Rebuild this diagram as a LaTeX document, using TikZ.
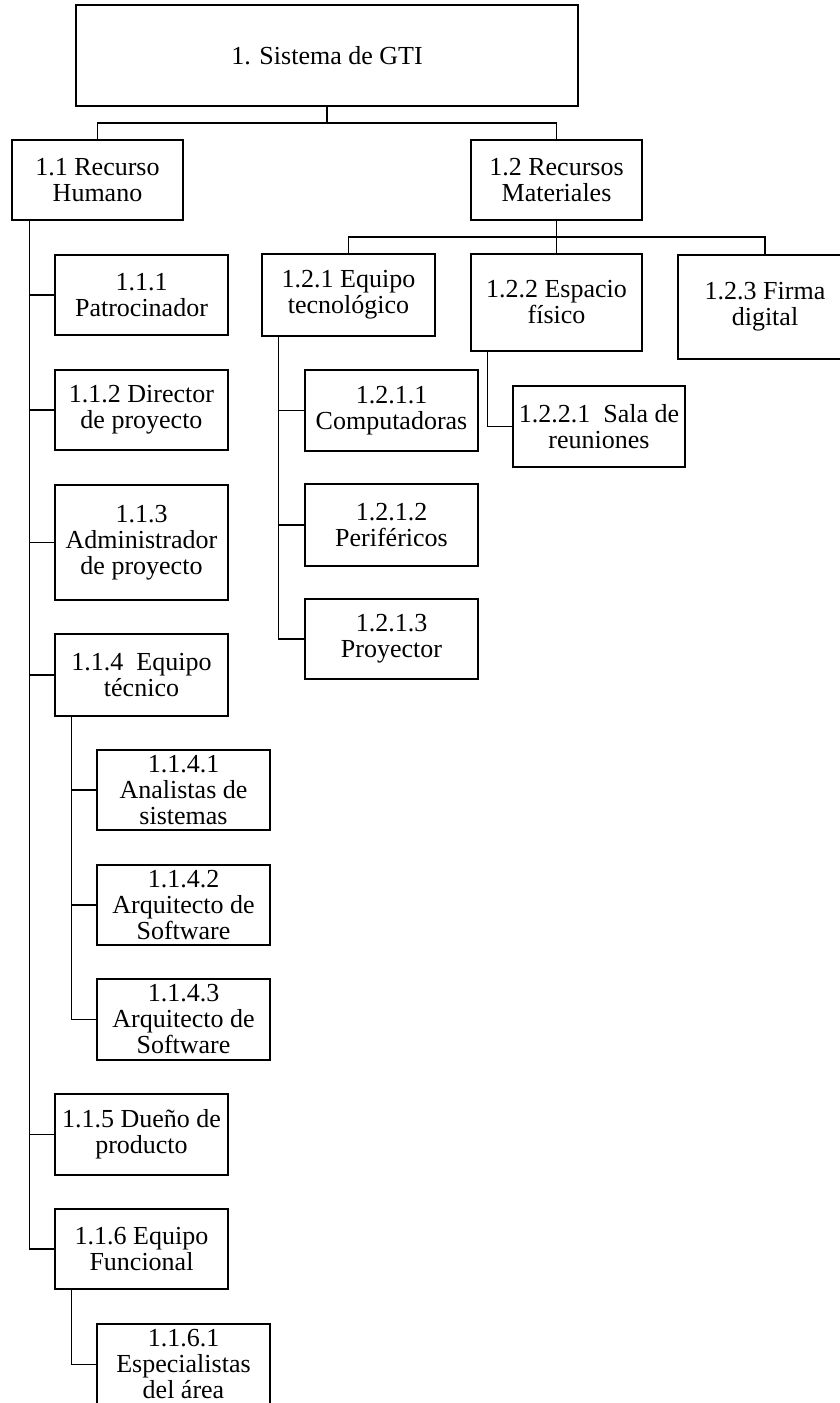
\documentclass[tikz,border=0pt]{standalone}
\usepackage{fontspec}
\setmainfont{Liberation Serif}
\begin{document}
\begin{tikzpicture}[x=1pt,y=-1pt,
  bx/.style={draw=black,line width=1.5pt,rectangle,inner sep=0pt,align=center,
    font=\fontsize{26}{26}\selectfont},
  cn/.style={draw=black,line width=1.5pt}]
\useasboundingbox (0,0) rectangle (839,1403);
% level 0 and 1
\node[bx,minimum width=502pt,minimum height=101pt] (root) at (327,55.5) {1. Sistema de GTI};
\node[bx,minimum width=171pt,minimum height=80pt] (n11) at (97.5,180) {1.1 Recurso\\Humano};
\node[bx,minimum width=171pt,minimum height=80pt] (n12) at (556.5,180) {1.2 Recursos\\Materiales};
% left branch
\node[bx,minimum width=173pt,minimum height=80pt] (n111) at (141.5,295) {1.1.1\\Patrocinador};
\node[bx,minimum width=173pt,minimum height=80pt] (n112) at (141.5,410) {1.1.2 Director\\de proyecto};
\node[bx,minimum width=173pt,minimum height=115pt] (n113) at (141.5,542.5) {1.1.3\\Administrador\\de proyecto};
\node[bx,minimum width=173pt,minimum height=82pt] (n114) at (141.5,675) {1.1.4\ \ Equipo\\técnico};
\node[bx,minimum width=173pt,minimum height=80pt] (n1141) at (183.5,790) {1.1.4.1\\Analistas de\\sistemas};
\node[bx,minimum width=173pt,minimum height=80pt] (n1142) at (183.5,905) {1.1.4.2\\Arquitecto de\\Software};
\node[bx,minimum width=173pt,minimum height=81pt] (n1143) at (183.5,1019.5) {1.1.4.3\\Arquitecto de\\Software};
\node[bx,minimum width=173pt,minimum height=81pt] (n115) at (141.5,1134.5) {1.1.5 Dueño de\\producto};
\node[bx,minimum width=173pt,minimum height=80pt] (n116) at (141.5,1249) {1.1.6 Equipo\\Funcional};
\node[bx,minimum width=173pt,minimum height=81pt] (n1161) at (183.5,1364.5) {1.1.6.1\\Especialistas\\del área};
% right branch
\node[bx,minimum width=173pt,minimum height=82pt] (n121) at (348.5,295) {1.2.1 Equipo\\tecnológico};
\node[bx,minimum width=171pt,minimum height=97pt] (n122) at (556.5,302.5) {1.2.2 Espacio\\físico};
\node[bx,minimum width=174pt,minimum height=104pt] (n123) at (765,307) {1.2.3 Firma\\digital};
\node[bx,minimum width=173pt,minimum height=81pt] (n1211) at (391.5,410.5) {1.2.1.1\\Computadoras};
\node[bx,minimum width=173pt,minimum height=82pt] (n1212) at (391.5,525) {1.2.1.2\\Periféricos};
\node[bx,minimum width=173pt,minimum height=80pt] (n1213) at (391.5,639) {1.2.1.3\\Proyector};
\node[bx,minimum width=172pt,minimum height=81pt] (n1221) at (599,426.5) {1.2.2.1\ \ Sala de\\reuniones};
% connectors level 0 -> 1
\coordinate (b1) at (327,123);
\draw[cn] (root.south) -- (b1);
\draw[cn] (n11.north) |- (b1) -| (n12.north);
% 1.1 spine
\coordinate (s11) at ([xshift=18pt]n11.south west);
\draw[cn] (s11) |- (n116.west);
\foreach \n in {n111,n112,n113,n114,n115} \draw[cn] (\n.west) -- (\n.west -| s11);
% 1.1.4 spine
\coordinate (s114) at ([xshift=17pt]n114.south west);
\draw[cn] (s114) |- (n1143.west);
\foreach \n in {n1141,n1142} \draw[cn] (\n.west) -- (\n.west -| s114);
% 1.1.6 spine
\coordinate (s116) at ([xshift=17pt]n116.south west);
\draw[cn] (s116) |- (n1161.west);
% 1.2 children
\coordinate (b12) at (556.5,237);
\draw[cn] (n12.south) -- (b12);
\draw[cn] (n121.north) |- (b12) -| (n123.north);
\draw[cn] (b12) -- (n122.north);
% 1.2.1 spine
\coordinate (s121) at ([xshift=17pt]n121.south west);
\draw[cn] (s121) |- (n1213.west);
\foreach \n in {n1211,n1212} \draw[cn] (\n.west) -- (\n.west -| s121);
% 1.2.2 spine
\coordinate (s122) at ([xshift=17pt]n122.south west);
\draw[cn] (s122) |- (n1221.west);
\end{tikzpicture}
\end{document}
